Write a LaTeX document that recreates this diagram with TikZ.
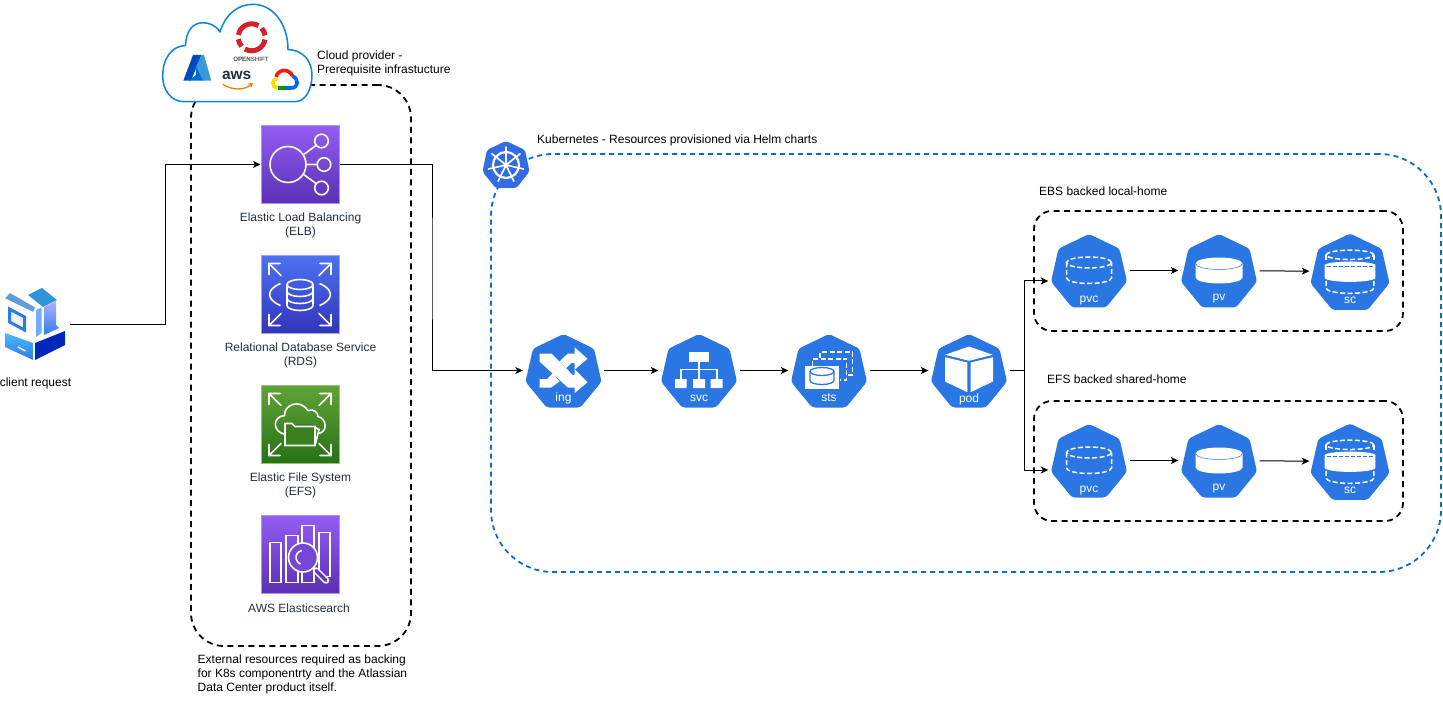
\documentclass[tikz,border=0pt]{standalone}
\usepackage{fontspec}
\setmainfont{Liberation Sans}
\usetikzlibrary{arrows.meta}
\definecolor{kubeblue}{HTML}{2A76E2}
\definecolor{logoblue}{HTML}{326CE5}
\definecolor{cloudblue}{HTML}{0A84E0}
\definecolor{boxblue}{HTML}{0B6CC4}
\definecolor{awstext}{HTML}{232F3E}
\definecolor{osred}{HTML}{D2232A}
\definecolor{purpletop}{HTML}{945DF2}
\definecolor{purplebot}{HTML}{5A30B5}
\definecolor{purplemid}{HTML}{7647D4}
\definecolor{bluetop}{HTML}{4D72F3}
\definecolor{bluebot}{HTML}{3334B9}
\definecolor{greentop}{HTML}{60A337}
\definecolor{greenbot}{HTML}{277116}
\definecolor{clientblue}{HTML}{2A7EE8}
\tikzstyle{arrow}=[draw=black, line width=1pt, >={Stealth[length=7.5pt,width=7pt,inset=2pt]}]
\tikzstyle{blackbox}=[draw=black, line width=1.8pt, dash pattern=on 6pt off 4.5pt, rounded corners=33pt, inner sep=0pt]
\tikzstyle{volbox}=[draw=black, line width=1.8pt, dash pattern=on 6pt off 4.5pt, rounded corners=18pt, inner sep=0pt, minimum width=369pt, minimum height=120pt]
\tikzstyle{kubebox}=[draw=boxblue, line width=1.8pt, dash pattern=on 5pt off 4pt, rounded corners=62pt, inner sep=0pt]
\tikzstyle{kube}=[inner sep=0pt, minimum width=81pt, minimum height=73pt]
\tikzstyle{kubelabel}=[text=white, inner sep=0pt, anchor=base, font=\fontsize{12}{14}\selectfont]
\tikzstyle{caption}=[text=black, inner sep=0pt, anchor=west, align=left, font=\fontsize{12}{14}\selectfont]
\tikzstyle{awslabel}=[text=awstext, inner sep=0pt, align=center, font=\fontsize{12}{14}\selectfont]
\tikzstyle{square}=[inner sep=0pt, minimum size=78pt, line width=1pt]
\tikzstyle{purplesq}=[square, draw=purpletop!70!white, top color=purpletop, bottom color=purplebot]
\tikzstyle{icon}=[draw=white, line width=1.6pt, fill=none]
\tikzstyle{iconfill}=[fill=white, draw=none]
\tikzstyle{icondash}=[draw=white, line width=1.5pt, dash pattern=on 5pt off 2.5pt]
\newcommand{\kubehex}[1]{\fill[#1, rounded corners=3pt] (0,-36.5) -- (30.5,-21.8) -- (38,11.2) -- (16.9,37) -- (-16.9,37) -- (-38,11.2) -- (-30.5,-21.8) -- cycle;}
\newcommand{\cornerarrows}{
	\foreach \sx/\sy in {1/1, -1/1, 1/-1, -1/-1} {
		\draw[icon, xscale=\sx, yscale=\sy, line cap=round] (19,19) -- (31,31) (20,31) -- (31,31) -- (31,20);
	}
}
\begin{document}
\begin{tikzpicture}[x=1pt, y=-1pt]
	\useasboundingbox (0,0) rectangle (1443,719);
	\begin{scope}
		% dashed groups
		\node (backing) at (301,365.5)[blackbox, minimum width=220pt, minimum height=561pt] {};
		\node (kubegroup) at (966,363)[kubebox, minimum width=950pt, minimum height=418pt] {};
		\node (ebsgroup) at (1218.5,271)[volbox] {};
		\node (efsgroup) at (1218.5,461)[volbox] {};

		% aws squares
		\node (elb) at (300,164.5)[purplesq] {};
		\node (rds) at (300,294.5)[square, draw=bluetop!60!white, top color=bluetop, bottom color=bluebot] {};
		\node (efs) at (300,424.5)[square, draw=greentop!65!white, top color=greentop, bottom color=greenbot] {};
		\node (es) at (300,554.5)[purplesq] {};

		% kubernetes objects
		\node (ing) at (563.5,370.5)[kube] {};
		\node (svc) at (699,370.5)[kube] {};
		\node (sts) at (829,370.5)[kube] {};
		\node (pod) at (969,370.5)[kube] {};
		\node (pvca) at (1089,270.5)[kube] {};
		\node (pva) at (1219,270.5)[kube] {};
		\node (sca) at (1350,271.5)[kube] {};
		\node (pvcb) at (1089,460.5)[kube] {};
		\node (pvb) at (1219,460.5)[kube] {};
		\node (scb) at (1350,461.5)[kube] {};
		\node (client) at (35,325)[inner sep=0pt, minimum width=69pt, minimum height=70pt] {};
		\coordinate (clientbend) at (165.5,250);
		\coordinate (elbbend) at (432,270);
		\coordinate (podbend) at (1024,370.5);
	\end{scope}
	% cloud
	\draw[cloudblue, fill=white, line width=1.5pt] (184,101.7) .. controls (171,101.7) and (162.7,90) .. (162.7,76) .. controls (162.7,58) and (172,46) .. (185.5,45.5) .. controls (186,32) and (192,22.7) .. (203,22.7) .. controls (210,22.7) and (216,26) .. (220,31.7) .. controls (226,13) and (239,4.3) .. (253,4.3) .. controls (273,4.3) and (288,24) .. (288,49.5) .. controls (303,50) and (312,61) .. (312,75) .. controls (312,90) and (305,101.7) .. (295,101.7) -- cycle;
	% cloud logos
	\draw[osred, line width=5pt] ([shift=(60:13.5pt)]251.7,37.3) arc[start angle=60, end angle=170, radius=13.5pt];
	\draw[osred, line width=5pt] ([shift=(188:13.5pt)]251.7,37.3) arc[start angle=188, end angle=222, radius=13.5pt];
	\draw[osred, line width=5pt] ([shift=(240:13.5pt)]251.7,37.3) arc[start angle=240, end angle=350, radius=13.5pt];
	\draw[osred, line width=5pt] ([shift=(8:13.5pt)]251.7,37.3) arc[start angle=8, end angle=42, radius=13.5pt];
	\node (openshift) at (251,59.5)[inner sep=0pt, font=\fontsize{6.2}{6}\selectfont\bfseries] {\textcolor{black!72}{OPEN}\textcolor{black!58}{SHIFT}};
	\fill[blue!60!cyan!75!black] (193,55) -- (201.5,55) -- (191,80.7) -- (183.3,80.7) -- cycle;
	\fill[cyan!70!blue!80!white] (201.5,55) -- (204,55) -- (211.3,80.7) -- (203,80.7) -- (195.5,68) -- cycle;
	\fill[blue!50!cyan!85!black] (196,66.5) -- (203,80.7) -- (189,80.7) -- (196,75) -- cycle;
	\node (aws) at (236.7,75)[inner sep=0pt, text=awstext, font=\fontsize{15.5}{16}\selectfont\bfseries] {aws};
	\draw[orange, line width=1.3pt] (222.7,84.2) .. controls (232,90.5) and (244,90.5) .. (251.2,84.6);
	\draw[orange, line width=1.3pt] (248.3,84) -- (252,83.8) -- (251,87);
	\draw[red!80!orange, line width=3.6pt] (276,77) .. controls (278,69) and (289,68) .. (292.5,76);
	\draw[blue!60!cyan, line width=3.6pt] (292.5,76) .. controls (299,79) and (299,88) .. (291,88) -- (285,88);
	\draw[green!60!black, line width=3.6pt] (285,88) -- (277.5,88);
	\draw[yellow!80!orange, line width=3.6pt] (277.5,88) .. controls (271.5,87.5) and (271.5,80) .. (277,78.5);
	% kubernetes wheel
	\begin{scope}[shift={(506,165)}]
		\fill[logoblue, rounded corners=2pt] (0,-24) -- (19,-15) -- (23.5,6.5) -- (10.5,23) -- (-10.5,23) -- (-23.5,6.5) -- (-19,-15) -- cycle;
		\draw[white, line width=2.2pt] (0,0) circle[radius=13pt];
		\fill[white] (0,0) circle[radius=2.6pt];
		\foreach \ang in {90,141.4,192.9,244.3,295.7,347.1,38.6} {
			\draw[white, line width=1.7pt, line cap=round] (\ang:2pt) -- (\ang:18pt);
		}
	\end{scope}

	\node (elblabel) at (300.5,225)[awslabel] {Elastic Load Balancing\\(ELB)};
	\node (rdslabel) at (300.5,355)[awslabel] {Relational Database Service\\(RDS)};
	\node (efslabel) at (300.5,485)[awslabel] {Elastic File System\\(EFS)};
	\node (eslabel) at (299,608)[awslabel] {AWS Elasticsearch};
	\node (clientlabel) at (35.5,383)[caption, anchor=center] {client request};
	\node (cloudlabel) at (317,63)[caption] {Cloud provider -\\Prerequisite infrastucture};
	\node (kubelabel) at (537,140)[caption] {Kubernetes - Resources provisioned via Helm charts};
	\node (ebslabel) at (1039,191.5)[caption] {EBS backed local-home};
	\node (efsname) at (1047,379.5)[caption] {EFS backed shared-home};
	\node (backinglabel) at (197.5,674)[caption] {External resources required as backing\\for K8s componentrty and the Atlassian\\Data Center product itself.};

	% client
	\begin{scope}
		\fill[cyan!60!blue!65!white] (10,293) -- (35,307.5) -- (33,312) -- (5,298.5) -- cycle;
		\fill[white] (5,298.5) -- (33,312) -- (33,342) -- (5,331) -- cycle;
		\draw[clientblue, line width=3pt, fill=blue!6!white] (9.5,309) -- (24.5,317) -- (24.5,330) -- (9.5,322) -- cycle;
		\fill[cyan!70!blue!85!white] (28,295) -- (42,288) -- (57,300) -- (43,307) -- cycle;
		\fill[blue!60!cyan!55!white] (36,310) -- (41.5,307.5) -- (41.5,333) -- (36,337) -- cycle;
		\shade[top color=blue!30!white, bottom color=clientblue] (44,307) -- (56,301) -- (56,325) -- (59,328) -- (44,335) -- cycle;
		\shade[top color=cyan!60!blue!70!white, bottom color=clientblue] (5,333) -- (33,343) -- (33,360) -- (5,347) -- cycle;
		\draw[white, line width=1.5pt] (18,347) -- (25.5,351);
		\fill[blue!70!black!85!cyan] (35,343) -- (65,331) -- (65,345) -- (35,360) -- cycle;
	\end{scope}

	% aws icons
	\begin{scope}[shift={(elb.center)}]
		\draw[icon] (-12,0) circle[radius=18pt];
		\draw[icon] (21.5,-23.5) circle[radius=6.8pt] (24,0) circle[radius=6.8pt] (21.5,23.5) circle[radius=6.8pt];
		\draw[icon] (3,-9.5) -- (16,-19) (6,0) -- (17,0) (3,9.5) -- (16,19);
	\end{scope}
	\begin{scope}[shift={(rds.center)}]
		\cornerarrows
		\draw[icon] (-19.5,-11) .. controls (-34,-5) and (-34,5) .. (-19.5,11);
		\draw[icon] (19.5,-11) .. controls (34,-5) and (34,5) .. (19.5,11);
		\draw[icon] (0,-10) ellipse[x radius=13pt, y radius=5pt];
		\draw[icon] (-13,-10) -- (-13,11) arc[start angle=180, end angle=360, x radius=13pt, y radius=5pt] -- (13,-10);
		\draw[icon] (-13,-3) arc[start angle=180, end angle=360, x radius=13pt, y radius=5pt];
		\draw[icon] (-13,4) arc[start angle=180, end angle=360, x radius=13pt, y radius=5pt];
	\end{scope}
	\begin{scope}[shift={(efs.center)}]
		\cornerarrows
		\draw[icon] (-14,10) .. controls (-28,8) and (-28,-8) .. (-15.5,-9) .. controls (-16,-20) and (0,-26) .. (8,-14) .. controls (14,-16) and (18,-12) .. (18,-8) .. controls (27,-6) and (28,8) .. (18,9);
		\fill[greenbot!70!greentop] (-15,-1) rectangle (16,21);
		\draw[icon] (-15,21) -- (-15,-1) -- (-8,-1) -- (-5,2) -- (15,2) -- (15,21) -- cycle;
		\draw[icon] (15,3) -- (19,5) -- (15,21);
	\end{scope}
	\begin{scope}[shift={(es.center)}]
		\draw[icon] (-30,-12) rectangle (-19,28);
		\draw[icon] (-14,-19) rectangle (-2,28);
		\draw[icon] (2,-29) rectangle (14,28);
		\draw[icon] (19,-22) rectangle (30,22);
		\draw[draw=white, line width=6.5pt, line cap=round] (16,16) -- (26,26);
		\draw[draw=purplebot!70!purplemid, line width=3.4pt, line cap=round] (16,16) -- (26,26);
		\draw[icon, fill=purplemid] (3,3) circle[radius=14.5pt];
		\draw[icon] ([shift=(100:7pt)]3,3) arc[start angle=100, end angle=250, radius=7pt];
	\end{scope}

	% kubernetes icons
	\begin{scope}[shift={(ing.center)}]
		\kubehex{kubeblue}
		\fill[iconfill] (-24,-17) -- (-12,-17) -- (9,4.3) -- (11,4.3) -- (11,-1.3) -- (24,11.7) -- (11,22.7) -- (11,17) -- (4.3,17) -- (-24,-9) -- cycle;
		\fill[iconfill] (-24,8.7) -- (-16.7,8.7) -- (-10.7,2.7) -- (-4,11) -- (-12.3,17) -- (-24,17) -- cycle;
		\fill[iconfill] (-4,-9) -- (4.3,-17) -- (11,-17) -- (11,-23.3) -- (24,-11.7) -- (11,-0.7) -- (11,-7.3) -- (7.7,-7.3) -- (2.7,-2.3) -- cycle;
	\end{scope}
	\begin{scope}[shift={(svc.center)}]
		\kubehex{kubeblue}
		\fill[iconfill] (-10.3,-18.3) rectangle (10.3,-9);
		\draw[icon] (0,-9) -- (0,9) (-18,9) -- (-18,-1) -- (18,-1) -- (18,9);
		\fill[iconfill] (-24,8.7) rectangle (-12.3,17.7) (-6,8.7) rectangle (6,17.7) (11.7,8.7) rectangle (23.7,17.7);
	\end{scope}
	\begin{scope}[shift={(sts.center)}]
		\kubehex{kubeblue}
		\draw[icondash] (-9,-13) -- (-9,-18.3) -- (23.7,-18.3) -- (23.7,4.3) -- (19,4.3);
		\draw[icondash] (-16.7,-5) -- (-16.7,-11.7) -- (17.7,-11.7) -- (17.7,9.3) -- (11,9.3);
		\fill[iconfill] (-24,-5) rectangle (10,18.3);
		\draw[kubeblue, line width=1.3pt] (-7,1) ellipse[x radius=12pt, y radius=4pt];
		\draw[kubeblue, line width=1.3pt] (-19,1) -- (-19,10) arc[start angle=180, end angle=360, x radius=12pt, y radius=4pt] -- (5,1);
	\end{scope}
	\begin{scope}[shift={(pod.center)}]
		\kubehex{kubeblue}
		\fill[iconfill] (0,-24) -- (23.7,-15.7) -- (0,-9.7) -- (-24,-15.7) -- cycle;
		\fill[iconfill] (-24,-13.3) -- (-1.7,-8) -- (-1.7,21.7) -- (-24,11) -- cycle;
		\fill[iconfill] (24,-13.3) -- (1.7,-8) -- (1.7,21.7) -- (24,11) -- cycle;
	\end{scope}
	\foreach \obj in {pvca, pvcb} {
		\begin{scope}[shift={(\obj.center)}]
			\kubehex{kubeblue}
			\draw[icondash] (0,-8) ellipse[x radius=22.5pt, y radius=5.5pt];
			\draw[icondash] (-22.5,-8) -- (-22.5,7.5) arc[start angle=180, end angle=360, x radius=22.5pt, y radius=5.5pt] -- (22.5,-8);
		\end{scope}
	}
	\foreach \obj in {pva, pvb} {
		\begin{scope}[shift={(\obj.center)}]
			\kubehex{kubeblue}
			\fill[iconfill] (-23.5,-7) arc[start angle=180, end angle=0, x radius=23.5pt, y radius=6pt] -- (23.5,7) arc[start angle=360, end angle=180, x radius=23.5pt, y radius=6pt] -- cycle;
			\draw[kubeblue, line width=.5pt] (-23.5,-7) arc[start angle=180, end angle=360, x radius=23.5pt, y radius=6pt];
		\end{scope}
	}
	\foreach \obj in {sca, scb} {
		\begin{scope}[shift={(\obj.center)}, scale=1.04]
			\kubehex{kubeblue}
			\draw[icondash] (0,-16) ellipse[x radius=23pt, y radius=4.5pt];
			\draw[icondash] (-23,-16) -- (-23,-10) (23,-16) -- (23,-10);
			\fill[iconfill] (-24.5,-6) arc[start angle=180, end angle=0, x radius=24.5pt, y radius=3.5pt] -- (24.5,6) arc[start angle=360, end angle=180, x radius=24.5pt, y radius=4pt] -- cycle;
			\draw[kubeblue, line width=.7pt, dash pattern=on 4pt off 2pt] (-22,-5) -- (22,-5);
			\draw[icondash] (-23,9) -- (-23,16) arc[start angle=180, end angle=360, x radius=23pt, y radius=5pt] -- (23,9);
		\end{scope}
	}
	\node (inglabel) at (563.5,401.5)[kubelabel] {ing};
	\node (svclabel) at (699,401.5)[kubelabel] {svc};
	\node (stslabel) at (829,401.5)[kubelabel] {sts};
	\node (podlabel) at (969,402)[kubelabel] {pod};
	\node (pvcalabel) at (1089,302.5)[kubelabel] {pvc};
	\node (pvalabel) at (1219,300.5)[kubelabel] {pv};
	\node (scalabel) at (1350,303.5)[kubelabel] {sc};
	\node (pvcblabel) at (1089,492.5)[kubelabel] {pvc};
	\node (pvblabel) at (1219,490.5)[kubelabel] {pv};
	\node (scblabel) at (1350,493.5)[kubelabel] {sc};

	\begin{scope}
		\draw [arrow,->] (client.east) -| (clientbend) |- (elb.west);
		\draw [arrow,->] (elb.east) -| (elbbend) |- (ing.west);
		\path [arrow,->] (ing) edge (svc);
		\path [arrow,->] (svc) edge (sts);
		\path [arrow,->] (sts) edge (pod);
		\draw [arrow] (pod.east) -- (podbend);
		\draw [arrow,->] (podbend) |- ([yshift=-10.5pt]pvca.west);
		\draw [arrow,->] (podbend) |- ([yshift=-9.5pt]pvcb.west);
		\path [arrow,->] (pvca) edge (pva);
		\path [arrow,->] (pva) edge (sca);
		\path [arrow,->] (pvcb) edge (pvb);
		\path [arrow,->] (pvb) edge (scb);
	\end{scope}
\end{tikzpicture}
\end{document}
